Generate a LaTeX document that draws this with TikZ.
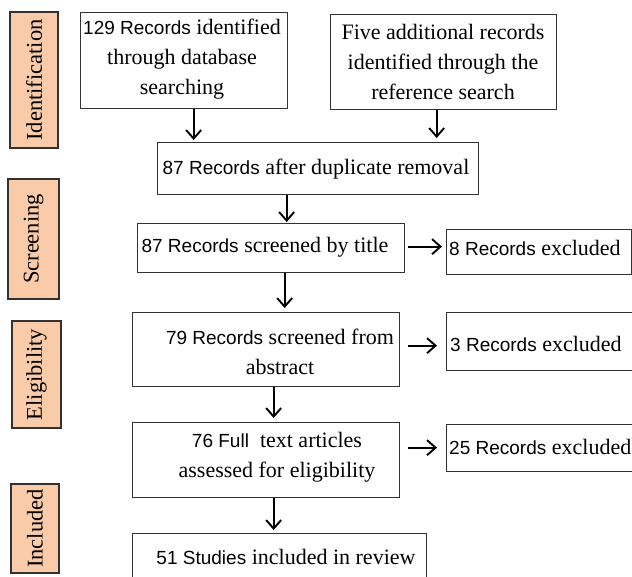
\documentclass[tikz,border=0pt]{standalone}
\usepackage{fontspec}
\setmainfont{Liberation Serif}
\newfontfamily\arfont{Liberation Sans}
\usetikzlibrary{arrows.meta}
\newcommand\Ar[1]{{\arfont\fontsize{19}{30}\selectfont #1}}
\definecolor{peach}{RGB}{250,203,168}
\definecolor{edge}{RGB}{50,50,50}
\tikzset{
  box/.style={draw=edge, line width=1.3pt, inner sep=0pt, anchor=north west},
  side/.style={draw=edge, line width=1.3pt, fill=peach, inner sep=0pt, rotate=90,
    font=\fontsize{22.5}{26}\selectfont},
  txt/.style={inner sep=0pt, align=center, font=\fontsize{22}{30}\selectfont},
  arr/.style={line width=1.9pt, -{Straight Barb[length=8.5pt,width=15pt,line width=1.9pt]}}
}
\begin{document}
\begin{tikzpicture}[x=1pt,y=-1pt]
\clip (0,0) rectangle (632,577);
\fill[white] (0,0) rectangle (632,577);
% side labels
\node[side, minimum width=136pt, minimum height=48pt] (s1) at (34,80) {Identification};
\node[side, minimum width=120pt, minimum height=51pt] (s2) at (33.5,239) {Screening};
\node[side, minimum width=107pt, minimum height=49pt] (s3) at (36.5,374.5) {Eligibility};
\node[side, minimum width=89pt, minimum height=48pt] (s4) at (35,528.5) {Included};
% boxes
\node[box, minimum width=207pt, minimum height=96pt] (A) at (80,12) {};
\node[box, minimum width=226pt, minimum height=95pt] (B) at (330,14) {};
\node[box, minimum width=321pt, minimum height=52pt] (C) at (157,142) {};
\node[box, minimum width=267pt, minimum height=49pt] (D) at (137,223) {};
\node[box, minimum width=185pt, minimum height=45pt] (E1) at (446,229) {};
\node[box, minimum width=267pt, minimum height=74pt] (F) at (132,312) {};
\node[box, minimum width=190pt, minimum height=58pt] (E2) at (446,312) {};
\node[box, minimum width=267pt, minimum height=75pt] (G) at (132,422) {};
\node[box, minimum width=190pt, minimum height=47pt] (E3) at (446,424) {};
\node[box, minimum width=294pt, minimum height=52pt] (H) at (132,533) {};
% texts
\node[txt] (tA) at (182,59) {\Ar{129 Records} identified\\through database\\searching};
\node[txt] (tB) at (443,62) {Five additional records\\identified through the\\reference search};
\node[txt] (tC) at (316,169) {\Ar{87 Records} after duplicate removal};
\node[txt] (tD) at (265,247) {\Ar{87 Records} screened by title};
\node[txt, anchor=west] (tE1) at (449,248) {\Ar{8 Records} excluded};
\node[txt] (tF) at (280,352) {\Ar{79 Records} screened from\\abstract};
\node[txt, anchor=west] (tE2) at (450,344) {\Ar{3 Records} excluded};
\node[txt] (tG) at (277,457) {\Ar{76 Full}\ \ text articles\\assessed for eligibility};
\node[txt, anchor=west] (tE3) at (449,447) {\Ar{25 Records} excluded};
\node[txt] (tH) at (286,557) {\Ar{51 Studies} included in review};
% arrows
\draw[arr, shorten >=2pt] ([xshift=9.5pt]A.south) -- ([xshift=9.5pt]A.south |- C.north);
\draw[arr, shorten >=4pt] ([xshift=-7pt]B.south) -- ([xshift=-7pt]B.south |- C.north);
\draw[arr, shorten >=1pt] ([xshift=-31.5pt]C.south) -- ([xshift=-31.5pt]C.south |- D.north);
\draw[arr, shorten <=3pt, shorten >=4pt] ([yshift=1.5pt]D.east) -- ([yshift=1.5pt]D.east -| E1.west);
\draw[arr, shorten >=4pt] ([xshift=13.5pt]D.south) -- ([xshift=13.5pt]D.south |- F.north);
\draw[arr, shorten <=8pt, shorten >=9pt] ([yshift=4pt]F.east) -- ([yshift=4pt]F.east -| E2.west);
\draw[arr, shorten >=4pt] ([xshift=7.5pt]F.south) -- ([xshift=7.5pt]F.south |- G.north);
\draw[arr, shorten <=8pt, shorten >=9pt] ([yshift=12.5pt]G.east) -- ([yshift=12.5pt]G.east -| E3.west);
\draw[arr, shorten >=3pt] ([xshift=7.5pt]G.south) -- ([xshift=7.5pt]G.south |- H.north);
\end{tikzpicture}
\end{document}
